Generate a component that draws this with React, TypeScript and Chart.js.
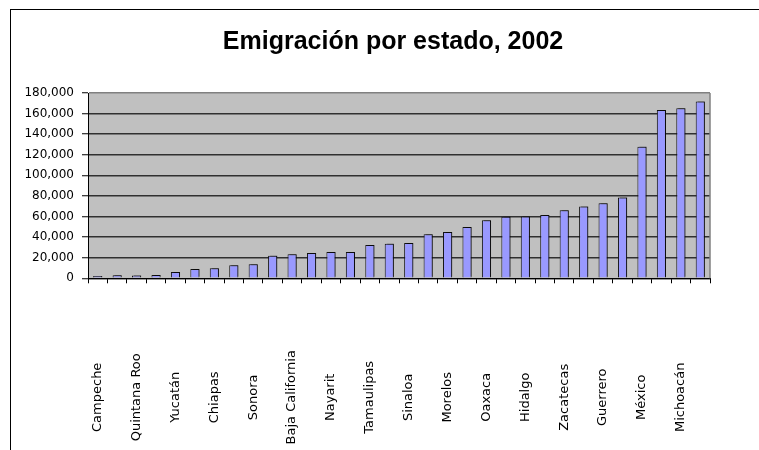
import React, { useEffect, useRef } from 'react';
import { Chart, registerables } from 'chart.js';

Chart.register(...registerables);

const categories = [
  'Campeche', 'Baja California Sur', 'Quintana Roo', 'Tabasco', 'Yucatán', 'Tlaxcala',
  'Chiapas', 'Colima', 'Sonora', 'Coahuila', 'Baja California', 'Aguascalientes',
  'Nayarit', 'Querétaro', 'Tamaulipas', 'Nuevo León', 'Sinaloa', 'Chihuahua',
  'Morelos', 'Durango', 'Oaxaca', 'Distrito Federal', 'Hidalgo', 'San Luis Potosí',
  'Zacatecas', 'Veracruz', 'Guerrero', 'Puebla', 'México', 'Guanajuato',
  'Michoacán', 'Jalisco',
];

const emigrants = [
  2200, 2900, 2800, 3200, 6100, 9000,
  9700, 12600, 13600, 21900, 23300, 24500,
  25500, 25500, 32300, 33600, 34200, 42700,
  44900, 49800, 56300, 59800, 60100, 61400,
  66000, 69800, 72800, 78600, 127700, 163600,
  165200, 171700,
];

const yMin = 0;
const yMax = 180000;
const yStep = 20000;

const titleText = 'Emigración por estado, 2002';

const frame = {
  id: 'frame',
  beforeDraw(chart: any) {
    const { ctx, chartArea } = chart;
    ctx.save();
    ctx.fillStyle = '#ffffff';
    ctx.fillRect(0, 0, chart.width, chart.height);
    ctx.strokeStyle = '#000000';
    ctx.lineWidth = 1;
    ctx.strokeRect(10.5, 9.5, chart.width + 20, chart.height + 20);
    ctx.fillStyle = '#C0C0C0';
    ctx.fillRect(chartArea.left, chartArea.top, chartArea.right - chartArea.left, chartArea.bottom - chartArea.top);
    ctx.restore();
  },
  beforeDatasetsDraw(chart: any) {
    const { ctx } = chart;
    ctx.save();
    ctx.shadowColor = 'rgba(0,0,0,0.45)';
    ctx.shadowOffsetX = 2;
    ctx.shadowOffsetY = -1;
    ctx.shadowBlur = 0;
  },
  afterDatasetsDraw(chart: any) {
    chart.ctx.restore();
  },
  afterDraw(chart: any) {
    const { ctx, chartArea } = chart;
    const xs = chart.scales.x;
    ctx.save();
    ctx.strokeStyle = '#808080';
    ctx.lineWidth = 1.5;
    ctx.beginPath();
    ctx.moveTo(chartArea.right, chartArea.top);
    ctx.lineTo(chartArea.right, chartArea.bottom);
    ctx.stroke();

    // chart title
    ctx.font = 'bold 25px "Liberation Sans", Arial, sans-serif';
    ctx.fillStyle = '#000000';
    ctx.textAlign = 'center';
    ctx.textBaseline = 'middle';
    ctx.fillText(titleText, (chartArea.left + chartArea.right) / 2 - 6, 42);

    // category labels (every other one, as in the original)
    ctx.font = '13px "DejaVu Sans"';
    const cy = chartArea.bottom + 119;
    categories.forEach((name, i) => {
      if (i % 2 !== 0) return;
      const x = xs.getPixelForValue(i);
      ctx.save();
      ctx.translate(x, cy);
      ctx.rotate(-Math.PI / 2);
      ctx.fillText(name, 0, 0);
      ctx.restore();
    });
    ctx.restore();
  },
};

export default function App() {
  const ref = useRef<HTMLCanvasElement | null>(null);

  useEffect(() => {
    if (!ref.current) return;
    const chart = new Chart(ref.current, {
      type: 'bar',
      data: {
        labels: categories,
        datasets: [
          {
            data: emigrants,
            backgroundColor: '#9999FF',
            borderColor: '#111111',
            borderWidth: 1,
            barPercentage: 0.47,
            categoryPercentage: 1,
          },
        ],
      },
      options: {
        responsive: false,
        animation: false,
        devicePixelRatio: 1,
        layout: { padding: { left: 0, right: 49, top: 93, bottom: 0 } },
        plugins: {
          legend: { display: false },
          tooltip: { enabled: false },
          title: { display: false },
        },
        scales: {
          x: {
            type: 'category',
            offset: true,
            grid: {
              offset: true,
              drawOnChartArea: false,
              drawTicks: true,
              tickLength: 5,
              tickColor: '#000000',
            },
            border: { display: true, color: '#000000', width: 1 },
            ticks: { display: false, autoSkip: false },
            afterFit(scale: any) {
              scale.height = 171.7;
            },
          },
          y: {
            min: yMin,
            max: yMax,
            ticks: {
              stepSize: yStep,
              color: '#000000',
              padding: 8,
              font: { family: '"DejaVu Sans", sans-serif', size: 12 },
              callback: (v: any) => Number(v).toLocaleString('en-US'),
            },
            grid: {
              color: (c: any) => (c.tick && c.tick.value === yMax ? '#808080' : '#303030'),
              lineWidth: 1.5,
              drawTicks: true,
              tickLength: 6,
              tickColor: '#000000',
              tickWidth: 1,
            },
            border: { display: true, color: '#000000', width: 1 },
            afterFit(scale: any) {
              scale.width = 88;
            },
          },
        },
      },
      plugins: [frame],
    });
    return () => chart.destroy();
  }, []);

  return (
    <div style={{ position: 'fixed', left: 0, top: 0, width: 759, height: 450, background: '#ffffff' }}>
      <canvas ref={ref} width={759} height={450} style={{ display: 'block' }} />
    </div>
  );
}
